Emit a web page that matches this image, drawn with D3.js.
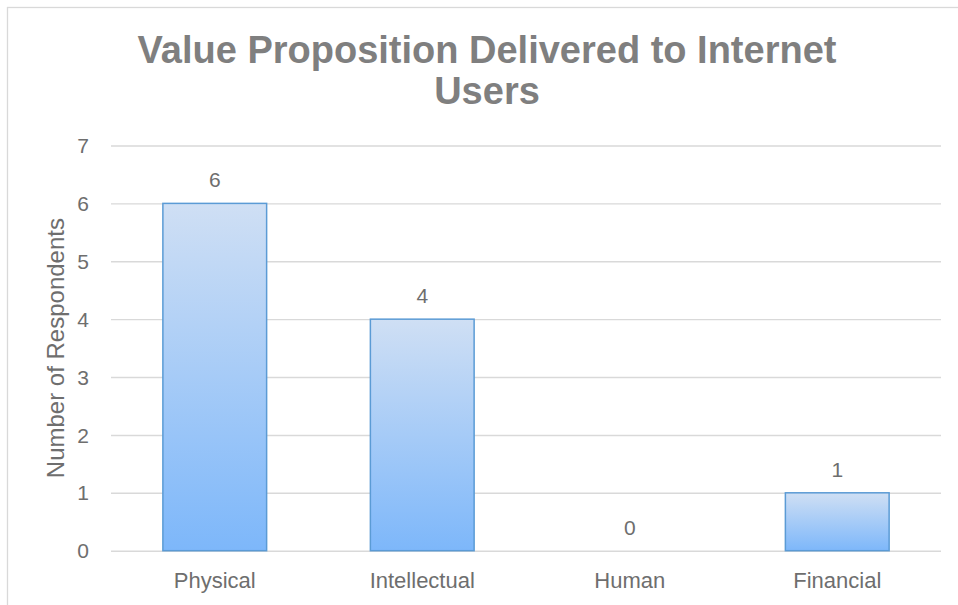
<!DOCTYPE html>
<html>
<head>
<meta charset="utf-8">
<script src="https://cdn.jsdelivr.net/npm/d3@7"></script>
<style>
  html, body { margin: 0; padding: 0; background: #fff; overflow: hidden; }
  svg { display: block; font-family: "Liberation Sans", Arial, sans-serif; }
</style>
</head>
<body>
<svg id="chart" width="958" height="605"></svg>
<script>
const categories = ["Physical", "Intellectual", "Human", "Financial"];
const values = [6, 4, 0, 1];
const yTicks = [0, 1, 2, 3, 4, 5, 6, 7];
const titleLines = ["Value Proposition Delivered to Internet", "Users"];
const yAxisTitle = "Number of Respondents";

const svg = d3.select("#chart");
const W = 958, H = 605;
const plot = { left: 111, right: 941, top: 145.5, bottom: 550.7 };

// frame
svg.append("rect")
  .attr("x", 7.5).attr("y", 7.5)
  .attr("width", W + 20).attr("height", H + 20)
  .attr("fill", "#fff").attr("stroke", "#d9d9d9").attr("stroke-width", 1.3);

// gradient
const defs = svg.append("defs");
const grad = defs.append("linearGradient").attr("id", "barGrad")
  .attr("x1", 0).attr("y1", 0).attr("x2", 0).attr("y2", 1);
grad.append("stop").attr("offset", "0%").attr("stop-color", "#cfdff4");
grad.append("stop").attr("offset", "100%").attr("stop-color", "#7db7fa");

const x = d3.scaleBand().domain(categories).range([plot.left, plot.right]).paddingInner(0.5).paddingOuter(0.25);
const y = d3.scaleLinear().domain([0, 7]).range([plot.bottom, plot.top]);

// gridlines
const yAxis = d3.axisLeft(y).tickValues(yTicks).tickSize(-(plot.right - plot.left)).tickPadding(22).tickFormat(d3.format("d"));
const gy = svg.append("g").attr("transform", `translate(${plot.left},0)`).call(yAxis);
gy.select(".domain").remove();
gy.selectAll(".tick line").attr("stroke", "#d9d9d9").attr("stroke-width", 1.4);
gy.selectAll(".tick text").attr("fill", "#6e6e6e").style("font-size", "21px").attr("dy", "0.34em");

// x axis labels
const xAxis = d3.axisBottom(x).tickSize(0).tickPadding(20);
const gx = svg.append("g").attr("transform", `translate(0,${plot.bottom})`).call(xAxis);
gx.select(".domain").remove();
gx.selectAll(".tick text").attr("fill", "#6e6e6e").style("font-size", "22px").attr("dy", "0.8em");

// bars
svg.append("g").selectAll("rect").data(values).join("rect")
  .attr("x", (d, i) => x(categories[i]))
  .attr("y", d => y(d))
  .attr("width", x.bandwidth())
  .attr("height", d => y(0) - y(d))
  .attr("fill", "url(#barGrad)")
  .attr("stroke", d => d > 0 ? "#5b9bd5" : "none")
  .attr("stroke-width", 1.5);

// data labels
svg.append("g").selectAll("text").data(values).join("text")
  .attr("x", (d, i) => x(categories[i]) + x.bandwidth() / 2)
  .attr("y", d => y(d) - 16)
  .attr("text-anchor", "middle")
  .attr("fill", "#6e6e6e")
  .style("font-size", "21px")
  .text(d => d);

// title
svg.append("g").selectAll("text").data(titleLines).join("text")
  .attr("x", 487)
  .attr("y", (d, i) => 63 + i * 41)
  .attr("text-anchor", "middle")
  .attr("fill", "#7f7f7f")
  .style("font-size", "38px")
  .style("font-weight", "bold")
  .text(d => d);

// y axis title
svg.append("text")
  .attr("transform", `translate(64,${(plot.top + plot.bottom) / 2}) rotate(-90)`)
  .attr("text-anchor", "middle")
  .attr("fill", "#6e6e6e")
  .style("font-size", "24px")
  .text(yAxisTitle);
</script>
</body>
</html>
